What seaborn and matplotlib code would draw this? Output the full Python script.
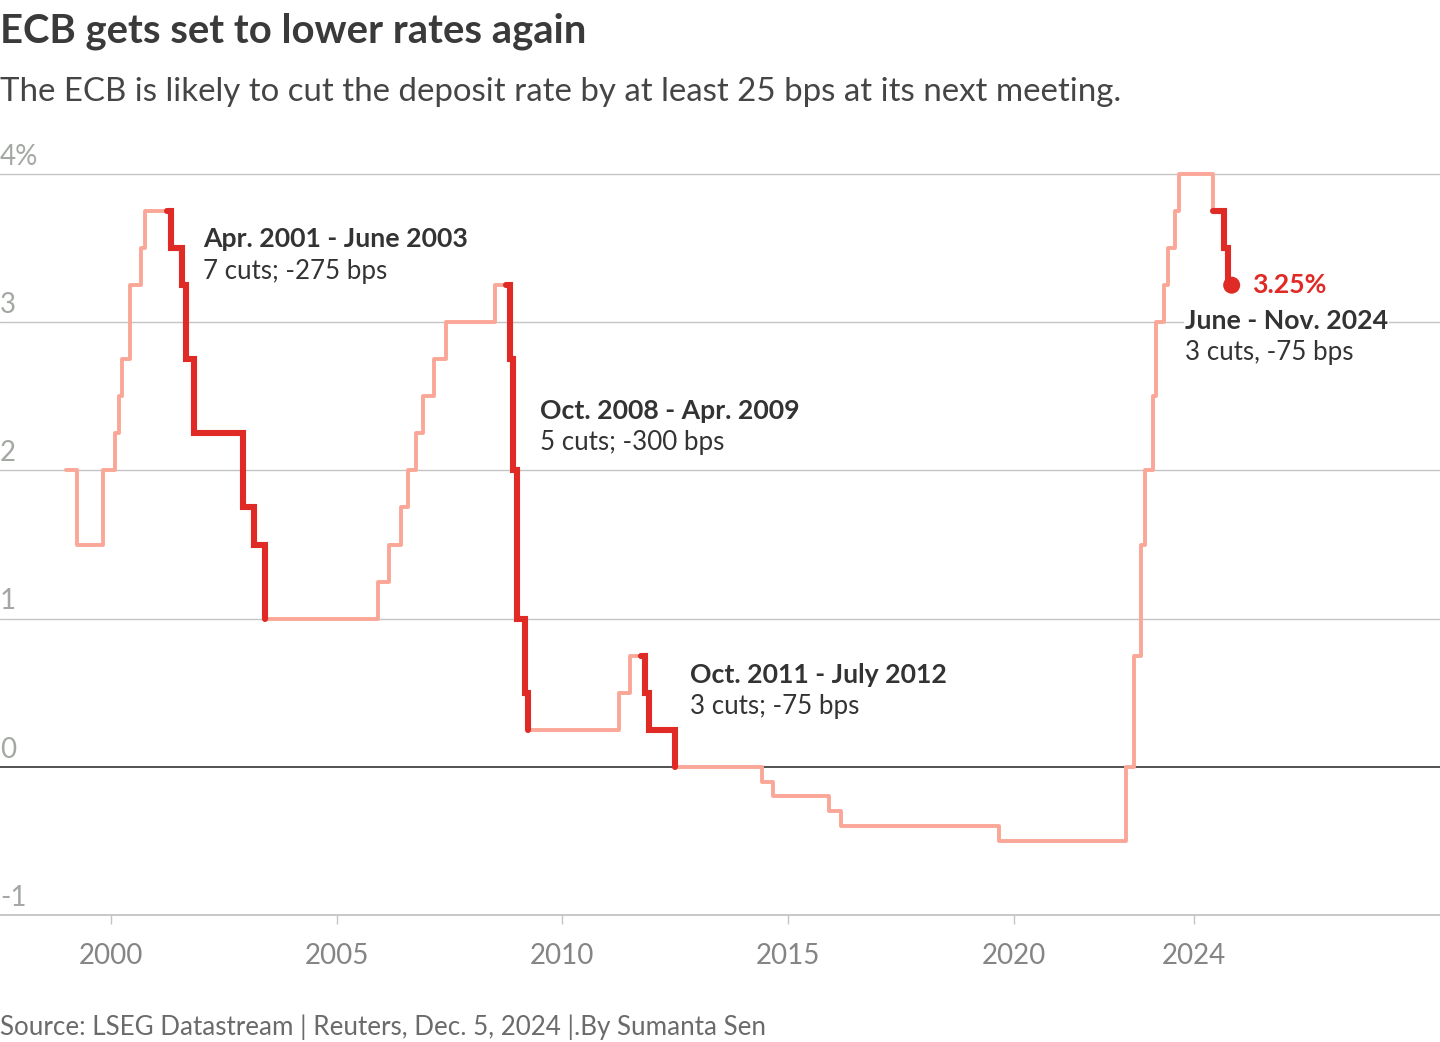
#!/usr/bin/env python3
"""ECB deposit rate, cutting cycles highlighted (Reuters style)."""
import pandas as pd
import matplotlib.pyplot as plt
import seaborn as sns
from matplotlib import transforms

# --------------------
# Data: month-end ECB deposit facility rate, listed at months where it changed
# --------------------
change_year = [1999, 1999, 1999, 2000, 2000, 2000, 2000, 2000, 2000,
               2001, 2001, 2001, 2001, 2002, 2003, 2003,
               2005, 2006, 2006, 2006, 2006, 2006, 2007, 2007, 2008,
               2008, 2008, 2009, 2009, 2009,
               2011, 2011, 2011, 2011, 2012,
               2014, 2014, 2015, 2016, 2019,
               2022, 2022, 2022, 2022, 2023, 2023, 2023, 2023, 2023, 2023,
               2024, 2024, 2024, 2024]
change_month = [1, 4, 11, 2, 3, 4, 6, 9, 10,
                5, 8, 9, 11, 12, 3, 6,
                12, 3, 6, 8, 10, 12, 3, 6, 7,
                11, 12, 1, 3, 4,
                4, 7, 11, 12, 7,
                6, 9, 12, 3, 9,
                7, 9, 11, 12, 2, 3, 5, 6, 8, 9,
                6, 9, 10, 11]
deposit_rate = [2.00, 1.50, 2.00, 2.25, 2.50, 2.75, 3.25, 3.50, 3.75,
                3.50, 3.25, 2.75, 2.25, 1.75, 1.50, 1.00,
                1.25, 1.50, 1.75, 2.00, 2.25, 2.50, 2.75, 3.00, 3.25,
                2.75, 2.00, 1.00, 0.50, 0.25,
                0.50, 0.75, 0.50, 0.25, 0.00,
                -0.10, -0.20, -0.30, -0.40, -0.50,
                0.00, 0.75, 1.50, 2.00, 2.50, 3.00, 3.25, 3.50, 3.75, 4.00,
                3.75, 3.50, 3.25, 3.25]

# cutting cycles (first month, last month)
cut_start = ["2001-04", "2008-10", "2011-10", "2024-06"]
cut_end = ["2003-06", "2009-04", "2012-07", "2024-11"]
cut_title = ["Apr. 2001 - June 2003", "Oct. 2008 - Apr. 2009",
             "Oct. 2011 - July 2012", "June - Nov. 2024"]
cut_note = ["7 cuts; -275 bps", "5 cuts; -300 bps",
            "3 cuts; -75 bps", "3 cuts, -75 bps"]

year_ticks = [2000, 2005, 2010, 2015, 2020, 2024]
rate_levels = [-1, 0, 1, 2, 3, 4]
rate_labels = ["-1", "0", "1", "2", "3", "4%"]

LIGHT = "#fba797"
RED = "#e02a26"
DARK = "#333333"
GRID = "#c4c4c4"


def monthly_series():
    idx = pd.to_datetime(pd.DataFrame(
        {"year": change_year, "month": change_month, "day": 1}))
    s = pd.Series(deposit_rate, index=idx).resample("MS").ffill()
    df = s.rename("rate").to_frame()
    df["x"] = df.index.year + (df.index.month - 1) / 12.0
    return df


def main():
    sns.set_theme(style="white")
    plt.rcParams["font.family"] = ["Lato", "DejaVu Sans"]

    df = monthly_series()

    fig = plt.figure(figsize=(14.4, 10.42), dpi=100)
    ax = fig.add_axes([0.0, 0.1219, 1.0, 0.7182])

    # gridlines
    for lvl in rate_levels[2:]:
        ax.axhline(lvl, color=GRID, lw=1.0, zorder=1)
    ax.axhline(0, color=DARK, lw=1.2, zorder=2)

    sns.lineplot(data=df, x="x", y="rate", ax=ax, color=LIGHT, lw=2.8,
                 drawstyle="steps-post", zorder=3)
    for a, b in zip(cut_start, cut_end):
        seg = df.loc[a:b]
        sns.lineplot(data=seg, x="x", y="rate", ax=ax, color=RED, lw=4.4,
                     drawstyle="steps-post", zorder=4,
                     solid_capstyle="round", solid_joinstyle="miter")
    last = df.iloc[[-1]]
    sns.scatterplot(data=last, x="x", y="rate", ax=ax, color=RED, s=150,
                    edgecolor="none", zorder=5)

    ax.set_xlim(1997.54, 2029.45)
    ax.set_ylim(-1, 4.05)
    ax.set_xlabel("")
    ax.set_ylabel("")
    for side in ["left", "right", "top"]:
        ax.spines[side].set_visible(False)
    ax.spines["bottom"].set_color(GRID)
    ax.spines["bottom"].set_linewidth(1.3)
    ax.set_yticks([])
    ax.set_xticks(year_ticks)
    ax.set_xticklabels([str(y) for y in year_ticks])
    ax.tick_params(axis="x", bottom=True, length=6.5, width=1, color=GRID,
                   pad=14, labelsize=20, labelcolor="#858585")

    # y labels sit above their gridline, flush left
    trans = transforms.blended_transform_factory(ax.transAxes, ax.transData)
    for lvl, lab in zip(rate_levels, rate_labels):
        ax.annotate(lab, xy=(0, lvl), xycoords=trans, xytext=(0, 3),
                    textcoords="offset points", ha="left", va="bottom",
                    fontsize=20, color="#a3a8a3")

    # annotations
    ann_x = [2002.04, 2009.51, 2012.83, 2023.80]
    ann_y = [3.56, 2.40, 0.62, 3.01]
    for i, (tx, ty) in enumerate(zip(ann_x, ann_y)):
        bbox = None
        if i == 3:
            bbox = dict(facecolor="white", edgecolor="none", pad=1)
        ax.text(tx, ty, cut_title[i], ha="left", va="center", fontsize=19.2,
                fontweight="bold", color=DARK, bbox=bbox, zorder=6)
        ax.text(tx, ty - 0.215, cut_note[i], ha="left", va="center",
                fontsize=18.6, color=DARK, zorder=6)
    ax.text(2025.28, 3.25, "3.25%", ha="left", va="center", fontsize=19.2,
            fontweight="bold", color=RED, zorder=6)

    # headings
    fig.text(0.0, 1 - 43 / 1042, "ECB gets set to lower rates again",
             ha="left", va="baseline", fontsize=28.8, fontweight="bold",
             color="#3a3a3a")
    fig.text(0.0, 1 - 101 / 1042,
             "The ECB is likely to cut the deposit rate by at least 25 bps at its next meeting.",
             ha="left", va="baseline", fontsize=23.8, color="#454545")
    fig.text(0.0, 1 - 1035 / 1042,
             "Source: LSEG Datastream | Reuters, Dec. 5, 2024 |.By Sumanta Sen",
             ha="left", va="baseline", fontsize=18.7, color="#6b6b6b")

    fig.savefig("out.png", dpi=100, facecolor="white")
    plt.close(fig)


if __name__ == "__main__":
    main()
